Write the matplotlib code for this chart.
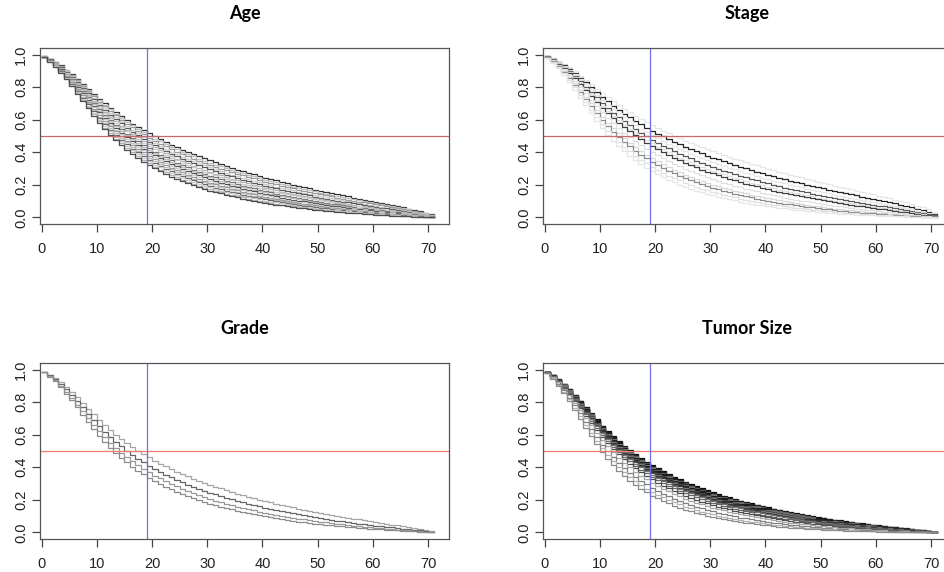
import matplotlib.pyplot as plt
import numpy as np

times = list(range(72))
baseline = [0.990, 0.975, 0.957, 0.936, 0.912, 0.886, 0.858, 0.829, 0.800, 0.770,
            0.740, 0.712, 0.686, 0.661, 0.637, 0.614, 0.592, 0.571, 0.551, 0.532,
            0.514, 0.497, 0.480, 0.464, 0.449, 0.434, 0.420, 0.406, 0.393, 0.380,
            0.368, 0.356, 0.345, 0.334, 0.323, 0.312, 0.302, 0.292, 0.282, 0.272,
            0.262, 0.253, 0.244, 0.235, 0.226, 0.218, 0.210, 0.202, 0.194, 0.186,
            0.178, 0.171, 0.163, 0.156, 0.149, 0.142, 0.135, 0.128, 0.121, 0.114,
            0.107, 0.100, 0.093, 0.086, 0.079, 0.071, 0.063, 0.055, 0.046, 0.036,
            0.024, 0.010]

# relative hazards of each drawn curve and its grey level (0 = black, 1 = white)
age_hr = [1.05, 1.09, 1.13, 1.18, 1.22, 1.27, 1.31, 1.36, 1.40, 1.45,
          1.49, 1.54, 1.59, 1.64, 1.69, 1.75, 1.80]
age_grey = [0.2, 0.75, 0.6, 0.8, 0.35, 0.7, 0.8, 0.45, 0.75, 0.3,
            0.8, 0.6, 0.75, 0.4, 0.8, 0.7, 0.3]

stage_hr = [0.90, 1.00, 1.08, 1.17, 1.25, 1.31, 1.45, 1.60, 1.70, 1.85, 2.00]
stage_grey = [0.9, 0.15, 0.9, 0.35, 0.88, 0.25, 0.88, 0.85, 0.55, 0.88, 0.9]

grade_hr = [1.23, 1.41, 1.58, 1.73]
grade_grey = [0.65, 0.4, 0.6, 0.55]

tumor_hr = [1.40, 1.42, 1.44, 1.46, 1.48, 1.50, 1.52, 1.54, 1.56, 1.58, 1.61,
            1.64, 1.70, 1.78, 1.88, 2.05, 2.20, 2.35]
tumor_grey = [0.05, 0.1, 0.4, 0.05, 0.5, 0.1, 0.3, 0.15, 0.5, 0.2, 0.3,
              0.45, 0.4, 0.3, 0.65, 0.5, 0.7, 0.55]

panels = [("Age", age_hr, age_grey, '#c86868'), ("Stage", stage_hr, stage_grey, '#c86868'),
          ("Grade", grade_hr, grade_grey, '#f07a72'), ("Tumor Size", tumor_hr, tumor_grey, '#f07a72')]

median_time = 19
x_ticks = [0, 10, 20, 30, 40, 50, 60, 70]
y_ticks = [0.0, 0.2, 0.4, 0.6, 0.8, 1.0]

plt.rcParams['font.family'] = 'Liberation Sans'

fig = plt.figure(figsize=(9.44, 5.72), dpi=100)
W, H = 944, 572
boxes = [(40, 48), (543, 48), (40, 363), (543, 363)]  # left, top in pixels
bw, bh = 409, 176

base = np.array(baseline)
for (title, hrs, greys, hcol), (left, top) in zip(panels, boxes):
    ax = fig.add_axes([left / W, 1 - (top + bh) / H, bw / W, bh / H])
    for hr, g in zip(hrs, greys):
        ax.step(times, base ** hr, where='post', color=str(g), lw=0.9)
    ax.axhline(0.5, color=hcol, lw=0.9)
    ax.axvline(median_time, color='#6f6fe8', lw=0.9)

    ax.set_xlim(-0.3, 73.8)
    ax.set_ylim(-0.04, 1.04)
    ax.set_xticks(x_ticks)
    ax.set_yticks(y_ticks)
    ax.set_yticklabels([f"{v:.1f}" for v in y_ticks], rotation=90, va='center')
    ax.tick_params(direction='out', length=6, width=0.9, colors='#444444',
                   labelcolor='#222222', labelsize=10.5)
    ax.tick_params(axis='x', pad=7)
    ax.tick_params(axis='y', pad=2.5)
    for sp in ax.spines.values():
        sp.set_color('#555555')
        sp.set_linewidth(0.9)
    fig.text((left + bw / 2) / W, 1 - (top - 34) / H, title,
             ha='center', va='center', fontsize=13, fontweight='bold',
             family='Lato')

plt.savefig('out.png', dpi=100)
plt.close()
